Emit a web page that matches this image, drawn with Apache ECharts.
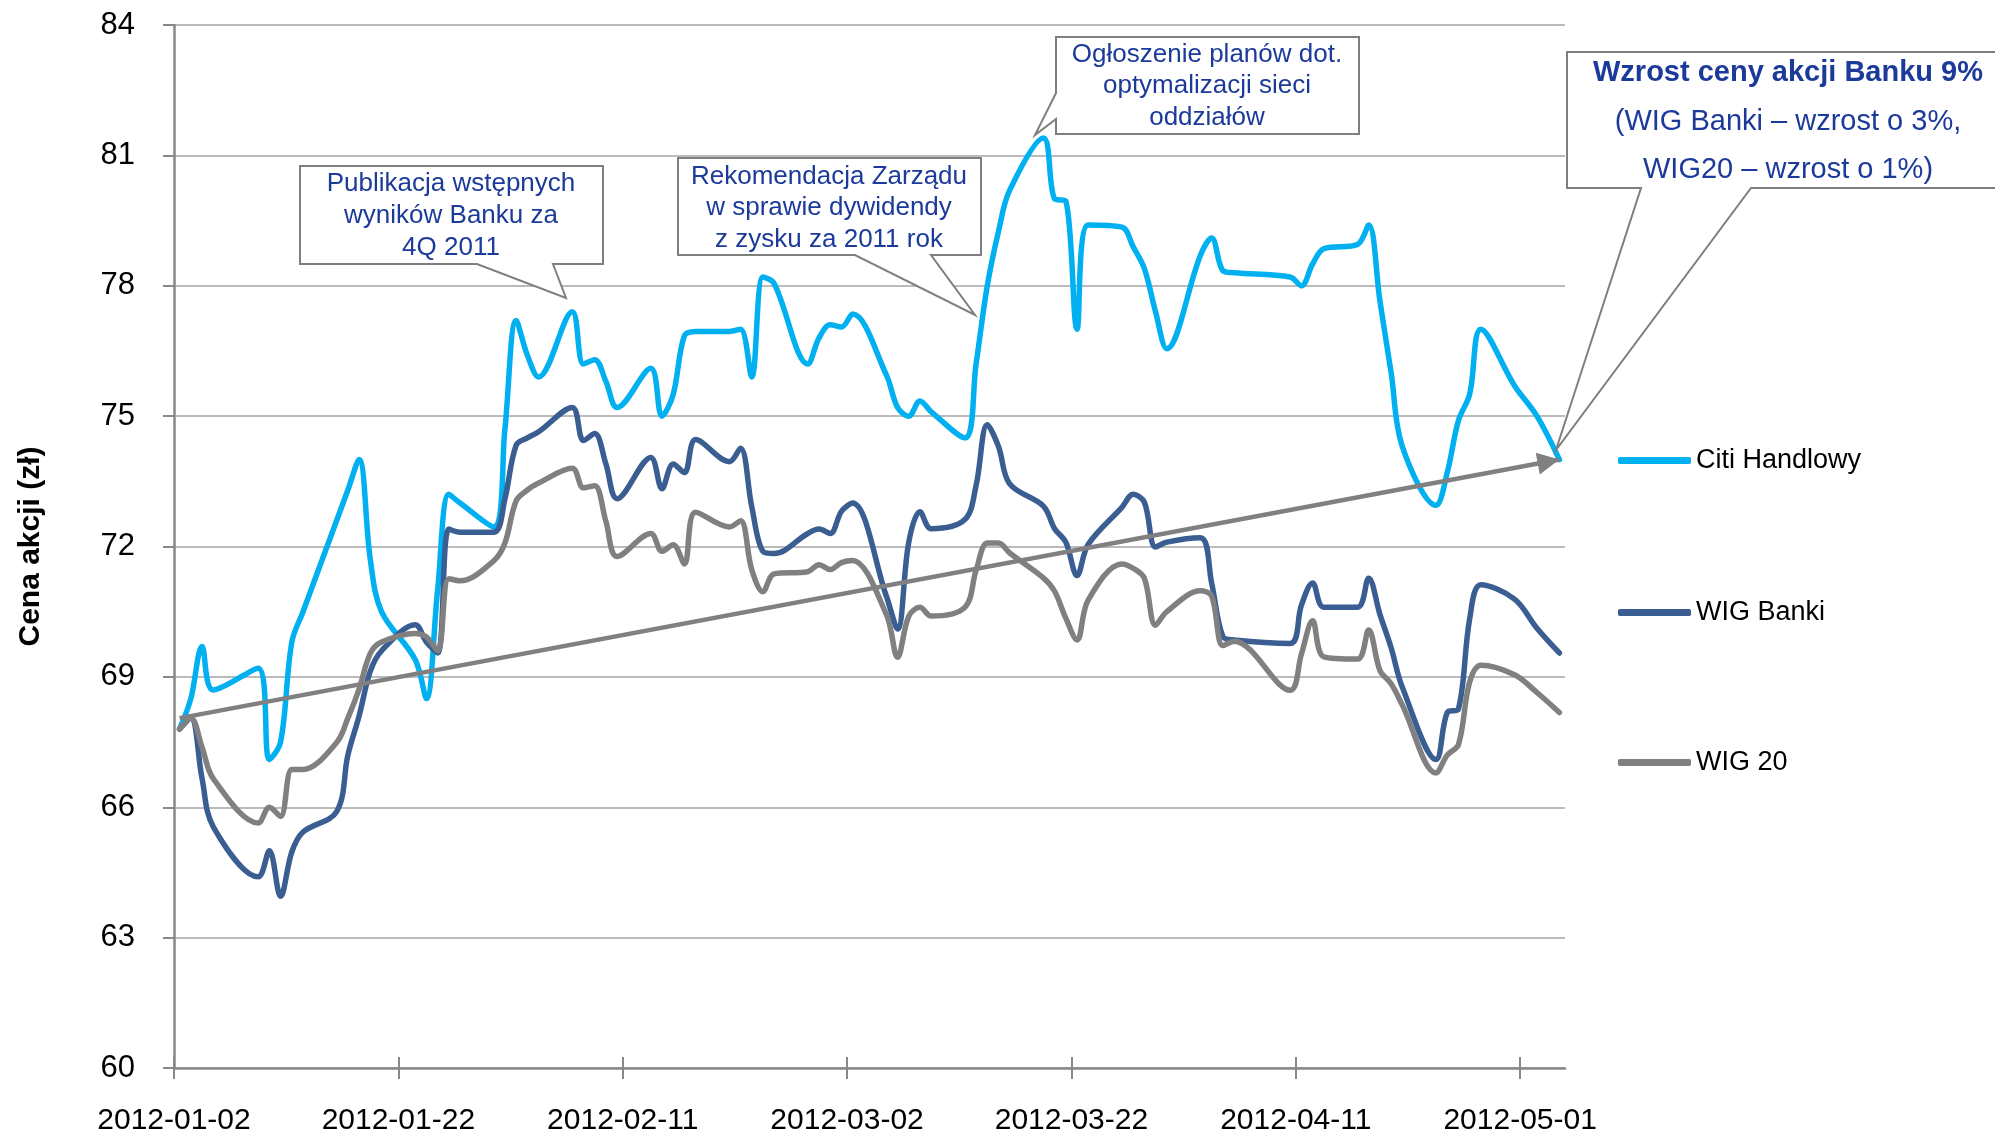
<!DOCTYPE html>
<html>
<head>
<meta charset="utf-8">
<title>Cena akcji</title>
<script src="https://cdn.jsdelivr.net/npm/echarts@6/dist/echarts.min.js"></script>
<style>
  html, body { margin: 0; padding: 0; background: #fff; }
  #chart { width: 1995px; height: 1136px; }
</style>
</head>
<body>
<div id="chart"></div>
<script>
// sesje gieldowe (bez 6.01, swiat wielkanocnych, 1.05 i 3.05)
var dates = [
  '2012-01-02','2012-01-03','2012-01-04','2012-01-05','2012-01-09','2012-01-10','2012-01-11','2012-01-12','2012-01-13',
  '2012-01-16','2012-01-17','2012-01-18','2012-01-19','2012-01-20','2012-01-23','2012-01-24','2012-01-25','2012-01-26','2012-01-27',
  '2012-01-30','2012-01-31','2012-02-01','2012-02-02','2012-02-03','2012-02-06','2012-02-07','2012-02-08','2012-02-09','2012-02-10',
  '2012-02-13','2012-02-14','2012-02-15','2012-02-16','2012-02-17','2012-02-20','2012-02-21','2012-02-22','2012-02-23','2012-02-24',
  '2012-02-27','2012-02-28','2012-02-29','2012-03-01','2012-03-02','2012-03-05','2012-03-06','2012-03-07','2012-03-08','2012-03-09',
  '2012-03-12','2012-03-13','2012-03-14','2012-03-15','2012-03-16','2012-03-19','2012-03-20','2012-03-21','2012-03-22','2012-03-23',
  '2012-03-26','2012-03-27','2012-03-28','2012-03-29','2012-03-30','2012-04-02','2012-04-03','2012-04-04','2012-04-05',
  '2012-04-10','2012-04-11','2012-04-12','2012-04-13','2012-04-16','2012-04-17','2012-04-18','2012-04-19','2012-04-20',
  '2012-04-23','2012-04-24','2012-04-25','2012-04-26','2012-04-27','2012-04-30','2012-05-02','2012-05-04'
]

var citiHandlowy = [
  67.8, 68.5, 69.7, 68.7, 69.2, 67.1, 67.5, 69.8, 70.5,
  72.6, 73.3, 74.0, 71.7, 70.5, 69.4, 68.5, 71.0, 73.2, 73.0,
  72.45, 74.7, 77.2, 76.4, 75.9, 77.4, 76.2, 76.3, 75.8, 75.2,
  76.1, 75.0, 75.5, 76.85, 76.95, 76.95, 77.0, 75.9, 78.2, 78.05,
  76.2, 76.8, 77.1, 77.05, 77.35, 75.95, 75.2, 75.0, 75.35, 75.1,
  74.5, 76.2, 78.0, 79.25, 80.2, 81.4, 80.0, 79.95, 77.0, 79.4,
  79.35, 78.9, 78.4, 77.4, 76.55, 78.7, 79.1, 78.35, 78.3,
  78.2, 78.0, 78.5, 78.85, 78.95, 79.4, 77.65, 76.0, 74.3,
  72.95, 73.7, 74.9, 75.5, 77.0, 75.7, 75.0, 74.0
]

var wigBanki = [
  67.8, 68.05, 66.66, 65.55, 64.4, 65.0, 63.95, 64.97, 65.43,
  65.9, 67.2, 68.1, 69.13, 69.6, 70.2, 69.8, 69.55, 72.4, 72.33,
  72.33, 73.1, 74.33, 74.5, 74.64, 75.2, 74.44, 74.6, 73.9, 73.1,
  74.05, 73.33, 73.9, 73.7, 74.46, 73.95, 74.26, 72.92, 71.89, 71.84,
  72.3, 72.4, 72.3, 72.81, 73.0, 70.86, 70.1, 72.1, 72.8, 72.41,
  72.62, 73.4, 74.8, 74.3, 73.44, 72.93, 72.41, 72.1, 71.33, 72.05,
  72.9, 73.2, 73.02, 71.99, 72.1, 72.2, 71.16, 69.93, 69.85,
  69.77, 70.65, 71.16, 70.6, 70.6, 71.27, 70.44, 69.67, 68.76,
  67.1, 68.18, 68.26, 70.33, 71.12, 70.79, 70.12, 69.55
]

var wig20 = [
  67.8, 68.05, 67.38, 66.66, 65.64, 66.0, 65.79, 66.87, 66.87,
  67.49, 68.05, 68.72, 69.54, 69.8, 70.0, 69.92, 69.6, 71.26, 71.21,
  71.67, 72.08, 73.05, 73.3, 73.46, 73.8, 73.35, 73.4, 72.58, 71.77,
  72.3, 71.89, 72.04, 71.6, 72.79, 72.45, 72.59, 71.47, 70.96, 71.37,
  71.42, 71.58, 71.47, 71.63, 71.68, 70.44, 69.45, 70.4, 70.6, 70.4,
  70.6, 71.45, 72.08, 72.08, 71.85, 71.28, 70.97, 70.35, 69.85, 70.77,
  71.6, 71.5, 71.27, 70.19, 70.5, 70.98, 70.86, 69.72, 69.82,
  68.69, 69.52, 70.29, 69.46, 69.41, 70.08, 69.15, 68.84, 68.35,
  66.79, 67.2, 67.44, 68.88, 69.27, 69.05, 68.64, 68.18
]

var seriesNames = ['Citi Handlowy', 'WIG Banki', 'WIG 20']
var seriesColors = ['#00B0F0', '#3A5E91', '#808080']

// strzalka trendu
var trendStart = ['2012-01-02', 68.05]
var trendEnd = ['2012-05-04', 74.0]

var axisStart = '2012-01-02'
var axisEnd = '2012-05-05'
var yTicks = [60, 63, 66, 69, 72, 75, 78, 81, 84]

var DAY = 86400000
var FONT = "'Liberation Sans', Arial, sans-serif"
var TXT_BLUE = '#1B3A9A'
var BOX_GRAY = '#7F7F7F'

// punkt na srodku dnia (jak os daty w Excelu "miedzy znacznikami")
function toX(d) {
  return (Date.parse(d) - Date.parse(axisStart)) / DAY + 0.5
}
function fmtDate(v) {
  var t = new Date(Date.parse(axisStart) + v * DAY)
  var m = t.getUTCMonth() + 1, d = t.getUTCDate()
  return t.getUTCFullYear() + '-' + (m < 10 ? '0' : '') + m + '-' + (d < 10 ? '0' : '') + d
}

var xMax = (Date.parse(axisEnd) - Date.parse(axisStart)) / DAY
var xTickValues = []
for (var v = 0; v <= xMax; v += 20) xTickValues.push(v)

function pairs(values) {
  return dates.map(function (d, i) { return [toX(d), values[i]] })
}

var chart = echarts.init(document.getElementById('chart'))

var baseX = {
  type: 'value',
  min: 0,
  max: xMax,
  interval: 20,
  position: 'bottom',
  splitLine: { show: false }
}

var option = {
  animation: false,
  backgroundColor: '#fff',
  textStyle: { fontFamily: FONT },
  grid: { left: 174, right: 430, top: 25, bottom: 67 },
  xAxis: [
    Object.assign({}, baseX, {
      axisLine: { onZero: false, lineStyle: { color: '#888', width: 2.5 } },
      axisTick: { length: 11, customValues: xTickValues, lineStyle: { color: '#888', width: 2 } },
      axisLabel: {
        customValues: xTickValues,
        margin: 38,
        fontSize: 30,
        color: '#000',
        formatter: function (v) { return fmtDate(v) }
      }
    }),
    // druga os tylko dla znacznikow do wewnatrz (znaczniki krzyzowe)
    Object.assign({}, baseX, {
      axisLine: { show: false, onZero: false },
      axisTick: { inside: true, length: 11, customValues: xTickValues, lineStyle: { color: '#888', width: 2 } },
      axisLabel: { show: false }
    })
  ],
  yAxis: {
    type: 'value',
    min: yTicks[0],
    max: yTicks[yTicks.length - 1],
    interval: 3,
    name: 'Cena akcji (zł)',
    nameLocation: 'middle',
    nameRotate: 90,
    nameGap: 128,
    nameTextStyle: { fontSize: 30, fontWeight: 'bold', color: '#000' },
    axisLine: { show: true, lineStyle: { color: '#888', width: 2.5 } },
    axisTick: { show: true, length: 11, lineStyle: { color: '#888', width: 2 } },
    axisLabel: { margin: 39, fontSize: 31, color: '#000' },
    splitLine: { lineStyle: { color: '#BBBBBB', width: 2 } }
  },
  legend: seriesNames.map(function (n, i) {
    return {
      data: [n],
      orient: 'vertical',
      left: 1613,
      top: [442, 594, 744][i],
      icon: 'roundRect',
      itemWidth: 73,
      itemHeight: 7,
      selectedMode: false,
      textStyle: { fontSize: 27, color: '#000', fontFamily: FONT }
    }
  }),
  series: [citiHandlowy, wigBanki, wig20].map(function (vals, i) {
    var s = {
      name: seriesNames[i],
      type: 'line',
      data: pairs(vals),
      smooth: 0.35,
      showSymbol: false,
      symbol: 'none',
      color: seriesColors[i],
      lineStyle: { color: seriesColors[i], width: 5.5, cap: 'round', join: 'round' },
      emphasis: { disabled: true },
      z: 2 + i
    }
    if (i === 2) {
      s.markLine = {
        silent: true,
        symbol: 'triangle',
        symbolSize: 22,
        label: { show: false },
        itemStyle: { color: '#808080' },
        lineStyle: { color: '#808080', width: 4.5, type: 'solid' },
        emphasis: { disabled: true },
        data: [[
          { coord: [toX(trendStart[0]), trendStart[1]], symbol: 'none' },
          { coord: [toX(trendEnd[0]), trendEnd[1]], symbol: 'triangle', symbolSize: 22, symbolOffset: [0, 11] }
        ]]
      }
    }
    return s
  })
}

// dymki z komentarzami
function callout(points) {
  return {
    type: 'polygon',
    z: 100,
    shape: { points: points },
    style: { fill: '#fff', stroke: BOX_GRAY, lineWidth: 2 }
  }
}
function note(x, y, text, size, bold, lh) {
  return {
    type: 'text',
    z: 101,
    x: x,
    y: y,
    style: {
      text: text,
      fill: TXT_BLUE,
      font: (bold ? 'bold ' : '') + size + 'px ' + FONT,
      align: 'center',
      verticalAlign: 'middle',
      textAlign: 'center',
      textVerticalAlign: 'middle',
      lineHeight: lh || size * 1.2
    }
  }
}

option.graphic = [
  callout([[300, 166], [603, 166], [603, 264], [553, 264], [566, 298], [477, 264], [300, 264]]),
  note(451, 216, 'Publikacja wstępnych\nwyników Banku za\n4Q 2011', 26, false, 32),

  callout([[678, 158], [981, 158], [981, 255], [931, 255], [975, 315], [855, 255], [678, 255]]),
  note(829, 208, 'Rekomendacja Zarządu\nw sprawie dywidendy\nz zysku za 2011 rok', 26, false, 31.5),

  callout([[1056, 37], [1359, 37], [1359, 134], [1056, 134], [1056, 119], [1035, 135], [1056, 93]]),
  note(1207, 86, 'Ogłoszenie planów dot.\noptymalizacji sieci\noddziałów', 26, false, 31.5),

  callout([[1567, 52], [2000, 52], [2000, 188], [1751, 188], [1556, 450], [1641, 188], [1567, 188]]),
  note(1788, 73, 'Wzrost ceny akcji Banku 9%', 29, true),
  note(1788, 146, '(WIG Banki – wzrost o 3%,\nWIG20 – wzrost o 1%)', 29, false, 48.5)
]

chart.setOption(option)
</script>
</body>
</html>
